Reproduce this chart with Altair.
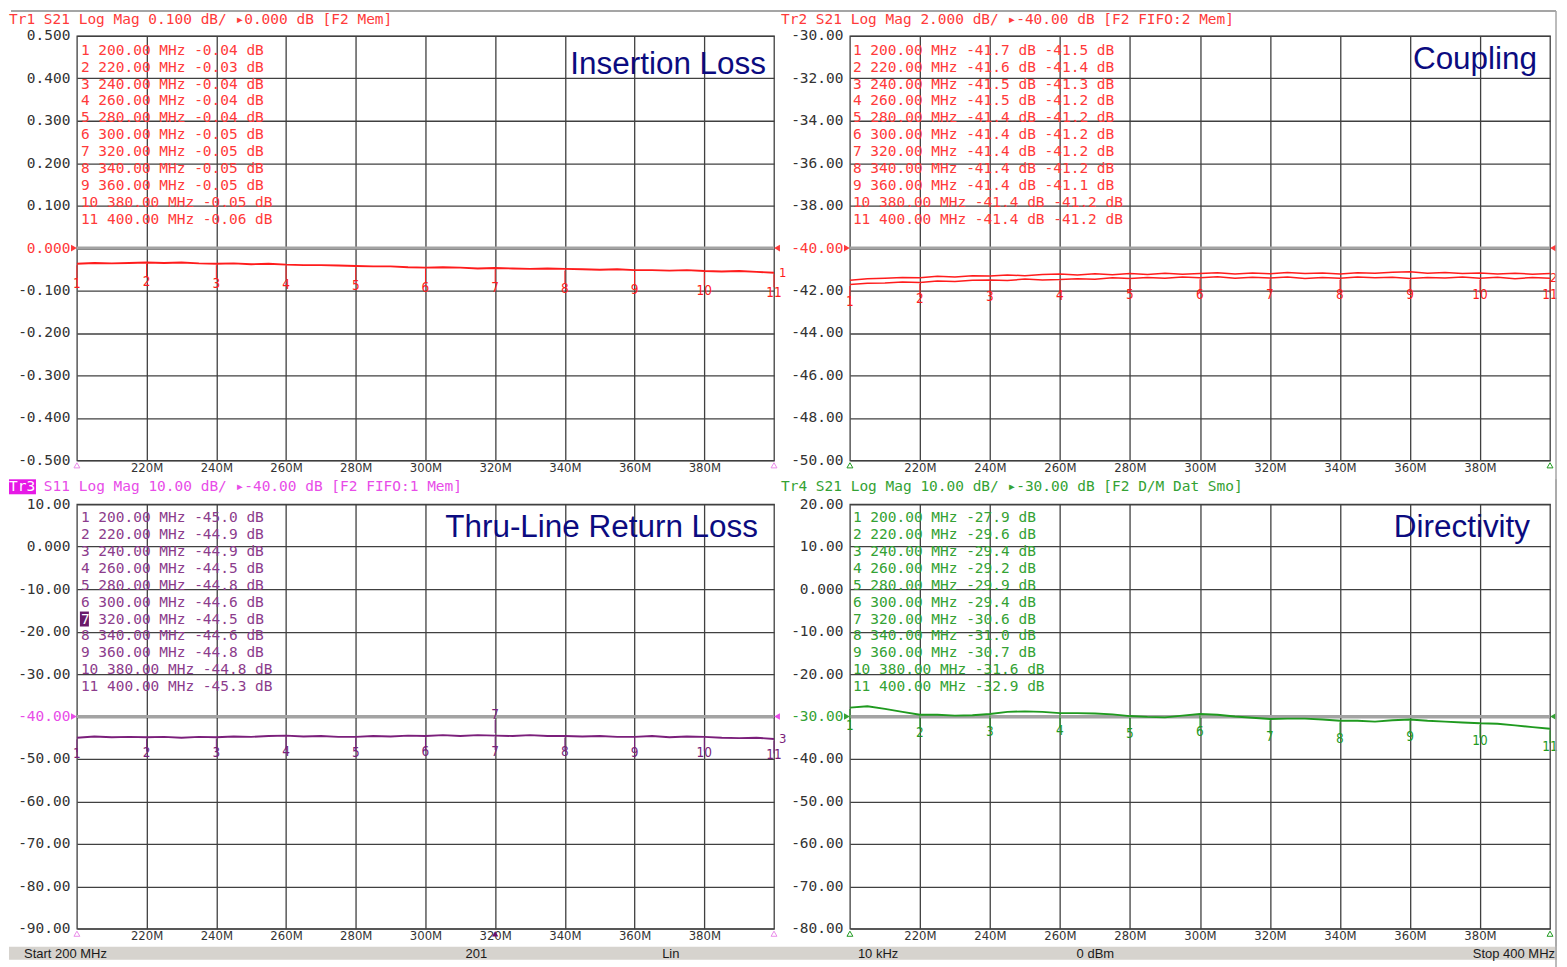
import altair as alt
import pandas as pd

# ---------------- data ----------------
FREQ = list(range(200, 401, 5))  # MHz sample positions

IL = [-0.037, -0.035, -0.036, -0.035, -0.034, -0.035, -0.034, -0.036, -0.037, -0.036,
      -0.038, -0.037, -0.039, -0.040, -0.040, -0.041, -0.042, -0.043, -0.043, -0.045,
      -0.046, -0.045, -0.046, -0.048, -0.047, -0.048, -0.049, -0.048, -0.049, -0.050,
      -0.051, -0.050, -0.052, -0.052, -0.053, -0.052, -0.054, -0.055, -0.054, -0.056, -0.058]

CPL_A = [-41.72, -41.66, -41.64, -41.60, -41.62, -41.55, -41.57, -41.52, -41.50, -41.53,
         -41.46, -41.50, -41.48, -41.44, -41.47, -41.40, -41.43, -41.38, -41.42, -41.36,
         -41.40, -41.35, -41.42, -41.37, -41.41, -41.36, -41.43, -41.38, -41.42, -41.36,
         -41.40, -41.37, -41.43, -41.38, -41.41, -41.36, -41.42, -41.37, -41.44, -41.39, -41.42]

CPL_B = [-41.52, -41.45, -41.42, -41.38, -41.40, -41.33, -41.36, -41.30, -41.32, -41.27,
         -41.30, -41.24, -41.22, -41.27, -41.21, -41.25, -41.20, -41.24, -41.18, -41.23,
         -41.20, -41.16, -41.22, -41.17, -41.21, -41.15, -41.20, -41.17, -41.22, -41.16,
         -41.19, -41.14, -41.12, -41.18, -41.15, -41.20, -41.17, -41.22, -41.18, -41.23, -41.20]

RL = [-45.0, -44.7, -44.9, -44.8, -44.9, -44.8, -45.0, -44.8, -44.9, -44.7,
      -44.8, -44.6, -44.5, -44.7, -44.6, -44.8, -44.8, -44.6, -44.7, -44.5,
      -44.6, -44.4, -44.6, -44.4, -44.5, -44.6, -44.4, -44.6, -44.6, -44.7,
      -44.6, -44.8, -44.8, -44.6, -44.9, -44.7, -44.8, -45.0, -45.1, -45.0, -45.3]

DIR = [-27.9, -27.6, -28.2, -28.9, -29.6, -29.6, -29.8, -29.7, -29.4, -28.9,
       -28.8, -28.9, -29.2, -29.2, -29.3, -29.5, -29.9, -30.1, -30.2, -29.8,
       -29.4, -29.6, -30.0, -30.3, -30.6, -30.5, -30.5, -30.7, -31.0, -31.0,
       -31.2, -30.9, -30.7, -31.0, -31.2, -31.4, -31.6, -31.7, -32.1, -32.5, -32.9]

MKR_FREQ = [200, 220, 240, 260, 280, 300, 320, 340, 360, 380, 400]
MKR_NUM = ["1", "2", "3", "4", "5", "6", "7", "8", "9", "10", "11"]
IL_MKR = [-0.04, -0.03, -0.04, -0.04, -0.04, -0.05, -0.05, -0.05, -0.05, -0.05, -0.06]
CPL_MKR_A = [-41.7, -41.6, -41.5, -41.5, -41.4, -41.4, -41.4, -41.4, -41.4, -41.4, -41.4]
CPL_MKR_B = [-41.5, -41.4, -41.3, -41.2, -41.2, -41.2, -41.2, -41.2, -41.1, -41.2, -41.2]
RL_MKR = [-45.0, -44.9, -44.9, -44.5, -44.8, -44.6, -44.5, -44.6, -44.8, -44.8, -45.3]
DIR_MKR = [-27.9, -29.6, -29.4, -29.2, -29.9, -29.4, -30.6, -31.0, -30.7, -31.6, -32.9]

XTICKS = [220, 240, 260, 280, 300, 320, 340, 360, 380]
Y1 = [0.5, 0.4, 0.3, 0.2, 0.1, 0.0, -0.1, -0.2, -0.3, -0.4, -0.5]
Y2 = [-30, -32, -34, -36, -38, -40, -42, -44, -46, -48, -50]
Y3 = [10, 0, -10, -20, -30, -40, -50, -60, -70, -80, -90]
Y4 = [20, 10, 0, -10, -20, -30, -40, -50, -60, -70, -80]

TITLES = ["Insertion Loss", "Coupling", "Thru-Line Return Loss", "Directivity"]
HEADERS = ["Tr1 S21 Log Mag 0.100 dB/ \u25b80.000 dB [F2 Mem]",
           "Tr2 S21 Log Mag 2.000 dB/ \u25b8-40.00 dB [F2 FIFO:2 Mem]",
           "Tr3 S11 Log Mag 10.00 dB/ \u25b8-40.00 dB [F2 FIFO:1 Mem]",
           "Tr4 S21 Log Mag 10.00 dB/ \u25b8-30.00 dB [F2 D/M Dat Smo]"]
STATUS = ["Start 200 MHz", "201", "Lin", "10 kHz", "0 dBm", "Stop 400 MHz"]

# ---------------- styling ----------------
H = 425
GRID = "#404040"
MINUS = "\u2212"
NARROW = "Liberation Sans Narrow, Arial Narrow, DejaVu Sans Condensed, Liberation Sans, sans-serif"
MONO = "DejaVu Sans Mono, Liberation Mono, monospace"
SANS = "Liberation Sans, Arial, sans-serif"
LH = 16.9
CW = 8.73  # monospace character advance at 14.5px


def fmt_expr(dec, zero_special=False):
    e = f"replace(format(datum.value, '.{dec}f'), '{MINUS}', '-')"
    if zero_special:
        e = f"datum.value == 0 ? '0.000' : {e}"
    return e


def one(val):
    return pd.DataFrame({"t": [val]})


def txt(t, x, y, **kw):
    return alt.Chart(one(t)).mark_text(**kw).encode(text="t:N", x=alt.value(x), y=alt.value(y))


def at_markers(series):
    return [series[FREQ.index(f)] for f in MKR_FREQ]


def list_block(lines, x, y, color):
    return txt("\n".join(lines), x, y, align="left", baseline="alphabetic", font=MONO,
               fontSize=14.5, lineBreak="\n", lineHeight=LH, color=color)


def make_panel(p):
    w = p["w"]
    X = alt.X("f:Q", scale=alt.Scale(domain=[200, 400], nice=False, zero=False),
              axis=alt.Axis(values=XTICKS, labelExpr="datum.value + 'M'", grid=True, ticks=False,
                            domain=False, title=None, labelFont=NARROW, labelFontSize=13,
                            labelColor="#333333", labelPadding=1, labelFlush=False,
                            labelOverlap=False, gridColor=GRID, gridWidth=1.3))
    Y = alt.Y("v:Q", scale=alt.Scale(domain=[p["lo"], p["hi"]], nice=False, zero=False),
              axis=alt.Axis(values=p["yticks"], labelExpr=p["lexpr"], grid=True, ticks=False,
                            domain=False, title=None, labelFont=MONO, labelFontSize=14.5,
                            labelPadding=7, labelFlush=False, labelOverlap=False,
                            labelColor=alt.condition(f"datum.value == {p['ref']}",
                                                     alt.value(p["rc"]), alt.value("#333333")),
                            gridColor=GRID, gridWidth=1.3))
    L = []
    L.append(alt.Chart(pd.DataFrame({"v": [p["ref"]]})).mark_rule(color="#a3a3a3", strokeWidth=3).encode(y=Y))
    fs, vs, ss = [], [], []
    for i, tr in enumerate(p["traces"]):
        fs += FREQ
        vs += tr
        ss += [f"s{i}"] * len(FREQ)
    tdf = pd.DataFrame({"f": fs, "v": vs, "s": ss})
    L.append(alt.Chart(tdf).mark_line(color=p["tc"], strokeWidth=p.get("sw", 1.9)).encode(x=X, y=Y, detail="s:N"))
    mdf = pd.DataFrame({"f": MKR_FREQ, "v": at_markers(p["traces"][0]), "n": MKR_NUM})
    L.append(alt.Chart(mdf).mark_tick(orient="vertical", size=13, thickness=1, yOffset=8,
                                       color=p["tc"], opacity=1).encode(x=X, y=Y))
    L.append(alt.Chart(mdf).mark_text(dy=p["ndy"], font=NARROW, fontSize=13.5,
                                       color=p["tc"]).encode(x=X, y=Y, text="n:N"))
    L.append(alt.Chart(pd.DataFrame({"f": [200], "v": [p["ref"]]})).mark_point(
        shape="triangle-right", filled=True, size=45, color=p["rc"], opacity=1, xOffset=-3).encode(x=X, y=Y))
    L.append(alt.Chart(pd.DataFrame({"f": [400], "v": [p["ref"]]})).mark_point(
        shape="triangle-left", filled=True, size=45, color=p["rc"], opacity=1, xOffset=3).encode(x=X, y=Y))
    L.append(alt.Chart(pd.DataFrame({"f": [200, 400]})).mark_point(
        shape="triangle-up", filled=False, size=35, color=p["bt"], strokeWidth=1, opacity=1).encode(
        x=X, y=alt.value(H + 5)))
    if p.get("tag"):
        L.append(alt.Chart(pd.DataFrame({"f": [400], "v": [p["traces"][0][-1]], "n": [p["tag"]]})).mark_text(
            dx=p.get("tagdx", 5), align="left", font=NARROW, fontSize=13, color=p["tc"]).encode(
            x=X, y=Y, text="n:N"))
    L += p["lists"]
    L.append(txt(p["title"], p["tx"], p["ty"], align="right", baseline="alphabetic",
                 font=SANS, fontSize=31.5, color="#0b0b80"))
    L.append(txt(p["header"], p["hx"], p["hy"], align="left", baseline="alphabetic",
                 font=MONO, fontSize=14.5, color=p["hc"]))
    L += p.get("extras", [])
    return alt.layer(*L).properties(width=w, height=H)


RED_T, RED_L = "#ff1c1c", "#ff3a3a"
PUR_T, PUR_L, MAG = "#7b1f7b", "#8c3c8c", "#e84ce8"
GRN_T, GRN_L = "#1f9a1f", "#34a234"
PINK = "#e98ce9"

il_lines = [f"{n} {f:.2f} MHz {v:.2f} dB" for n, f, v in zip(MKR_NUM, MKR_FREQ, IL_MKR)]
cpl_lines = [f"{n} {f:.2f} MHz {a:.1f} dB {b:.1f} dB" for n, f, a, b in zip(MKR_NUM, MKR_FREQ, CPL_MKR_A, CPL_MKR_B)]
rl_lines = [f"{n} {f:.2f} MHz {v:.1f} dB" for n, f, v in zip(MKR_NUM, MKR_FREQ, RL_MKR)]
dir_lines = [f"{n} {f:.2f} MHz {v:.1f} dB" for n, f, v in zip(MKR_NUM, MKR_FREQ, DIR_MKR)]

# decorations
frame_top = alt.Chart(one("")).mark_rule(color="#a5a5a5", strokeWidth=2).encode(
    x=alt.value(-66), x2=alt.value(1481), y=alt.value(-25))
frame_right = alt.Chart(one("")).mark_rule(color="#a5a5a5", strokeWidth=1.5).encode(
    x=alt.value(707), y=alt.value(-25), y2=alt.value(912))

SB_Y0, SB_Y1 = 443, 456
SB_MID = (SB_Y0 + SB_Y1) / 2 + 0.5
status_bar = alt.Chart(one("")).mark_rect(color="#d6d3ce").encode(
    x=alt.value(-68), x2=alt.value(1482), y=alt.value(SB_Y0), y2=alt.value(SB_Y1))
sb_kw = dict(baseline="middle", font=SANS, fontSize=13, color="#1a1a1a")
status_txt = [
    txt(STATUS[0], -53, SB_MID, align="left", **sb_kw),
    txt(STATUS[1], 400, SB_MID, align="center", **sb_kw),
    txt(STATUS[2], 586, SB_MID, align="left", **sb_kw),
    txt(STATUS[3], 782, SB_MID, align="left", **sb_kw),
    txt(STATUS[4], 1001, SB_MID, align="left", **sb_kw),
    txt(STATUS[5], 1480, SB_MID, align="right", **sb_kw),
]

X3 = alt.X("f:Q", scale=alt.Scale(domain=[200, 400], nice=False, zero=False))
Y3s = alt.Y("v:Q", scale=alt.Scale(domain=[-90, 10], nice=False, zero=False))
act_df = pd.DataFrame({"f": [320], "v": [RL[FREQ.index(320)]], "n": ["7"]})
L7Y = 18 + 6 * LH
tr3_extras = [
    status_bar, *status_txt,
    alt.Chart(act_df).mark_tick(orient="vertical", size=13, thickness=1, yOffset=-9,
                                color=PUR_T, opacity=1).encode(x=X3, y=Y3s),
    alt.Chart(act_df).mark_text(dy=-21, font=NARROW, fontSize=13.5, color=PUR_T).encode(x=X3, y=Y3s, text="n:N"),
    alt.Chart(act_df).mark_point(shape="triangle-up", filled=True, size=40, color="#6a106a",
                                 opacity=1).encode(x=X3, y=alt.value(H + 5)),
    alt.Chart(one("")).mark_rect(color="#6a1a6a").encode(
        x=alt.value(3), x2=alt.value(12), y=alt.value(L7Y - 12), y2=alt.value(L7Y + 3)),
    txt("7", 4, L7Y, align="left", baseline="alphabetic", font=MONO, fontSize=14.5, color="#ffffff"),
    alt.Chart(one("")).mark_rect(color="#e619e6").encode(
        x=alt.value(-68), x2=alt.value(-41), y=alt.value(-25), y2=alt.value(-10)),
    txt("Tr3", -68, -13, align="left", baseline="alphabetic", font=MONO, fontSize=14.5, color="#ffffff"),
]

rl_lists = [
    list_block(rl_lines[:6], 4, 18, PUR_L),
    txt(rl_lines[6][2:], 4 + 2 * CW, L7Y, align="left", baseline="alphabetic", font=MONO,
        fontSize=14.5, color=PUR_L),
    list_block(rl_lines[7:], 4, 18 + 7 * LH, PUR_L),
]

p1 = make_panel(dict(w=698, lo=-0.5, hi=0.5, yticks=Y1, lexpr=fmt_expr(3), ref=0, rc=RED_L,
                     traces=[IL], tc=RED_T, ndy=20, lists=[list_block(il_lines, 4, 19, RED_L)],
                     title=TITLES[0], tx=690, ty=38, header=HEADERS[0], hx=-68, hy=-12, hc=RED_L,
                     bt=PINK, tag="1", extras=[frame_top]))
p2 = make_panel(dict(w=701, lo=-50, hi=-30, yticks=Y2, lexpr=fmt_expr(2), ref=-40, rc=RED_L,
                     traces=[CPL_A, CPL_B], tc=RED_T, sw=1.5, ndy=17,
                     lists=[list_block(cpl_lines, 3, 19, RED_L)],
                     title=TITLES[1], tx=688, ty=33, header=HEADERS[1], hx=-69, hy=-12, hc=RED_L,
                     bt=GRN_T, tag="2", tagdx=0, extras=[frame_right]))
p3 = make_panel(dict(w=698, lo=-90, hi=10, yticks=Y3, lexpr=fmt_expr(2, True), ref=-40, rc=MAG,
                     traces=[RL], tc=PUR_T, ndy=16, lists=rl_lists,
                     title=TITLES[2], tx=682, ty=33,
                     header=HEADERS[2][4:], hx=-68 + 4 * CW, hy=-13, hc=MAG,
                     bt=PINK, tag="3", extras=tr3_extras))
p4 = make_panel(dict(w=701, lo=-80, hi=20, yticks=Y4, lexpr=fmt_expr(2, True), ref=-30, rc=GRN_L,
                     traces=[DIR], tc=GRN_T, ndy=18, lists=[list_block(dir_lines, 3, 18, GRN_L)],
                     title=TITLES[3], tx=681, ty=33, header=HEADERS[3], hx=-69, hy=-13, hc=GRN_L,
                     bt=GRN_T, extras=[frame_right]))

chart = alt.concat(p1, p2, p3, p4, columns=2, spacing={"row": 44, "column": 76},
                   bounds="flush", align="each").properties(
    padding=0, background="white").configure_view(stroke="#3f3f3f", strokeWidth=1.3)

chart.save("out.html", embed_options={"renderer": "svg", "actions": False})
